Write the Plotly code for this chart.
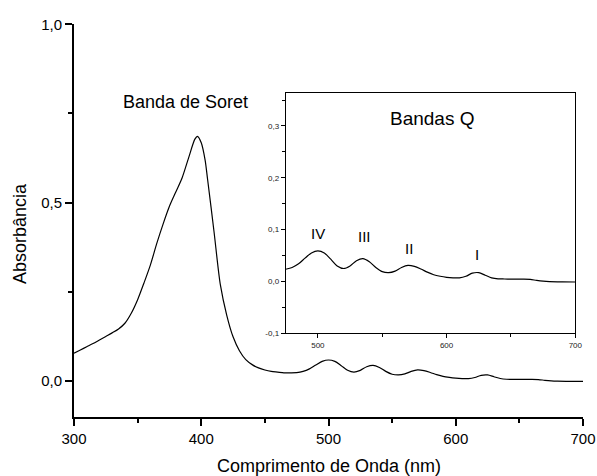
import plotly.graph_objects as go

# Spectrum data
wavelength = [300, 305, 310, 315, 320, 325, 330, 335, 340, 345, 350, 355, 360, 365, 370,
              375, 380, 385, 390, 395, 397, 400, 403, 405, 410, 415, 420, 425, 430, 435,
              440, 445, 450, 455, 460, 465, 470, 475, 480, 485, 490, 495, 500, 505, 510,
              515, 520, 525, 530, 535, 540, 545, 550, 555, 560, 565, 570, 575, 580, 585,
              590, 595, 600, 605, 610, 615, 620, 625, 630, 635, 640, 645, 650, 655, 660,
              665, 670, 675, 680, 690, 700]
absorbance = [0.078, 0.087, 0.096, 0.105, 0.115, 0.125, 0.135, 0.146, 0.162, 0.19, 0.228, 0.275,
              0.325, 0.385, 0.44, 0.49, 0.53, 0.57, 0.625, 0.678, 0.686, 0.668, 0.62, 0.565,
              0.42, 0.27, 0.185, 0.124, 0.085, 0.060, 0.046, 0.037, 0.031, 0.027, 0.025, 0.023,
              0.023, 0.0235, 0.027, 0.034, 0.045, 0.055, 0.059, 0.055, 0.043, 0.030, 0.025,
              0.030, 0.040, 0.044, 0.038, 0.027, 0.019, 0.017, 0.020, 0.027, 0.031, 0.029,
              0.024, 0.018, 0.013, 0.010, 0.008, 0.007, 0.007, 0.010, 0.016, 0.017, 0.012,
              0.007, 0.005, 0.0048, 0.0045, 0.0045, 0.0045, 0.004, 0.002, 0.0005, -0.0003,
              -0.0008, -0.001]

main_xticks = [300, 400, 500, 600, 700]
main_yticks = [0.0, 0.5, 1.0]
main_yticktext = ["0,0", "0,5", "1,0"]
inset_xticks = [500, 600, 700]
inset_yticks = [-0.1, 0.0, 0.1, 0.2, 0.3]
inset_yticktext = ["-0,1", "0,0", "0,1", "0,2", "0,3"]

inset_mask = [w >= 475 for w in wavelength]
inset_x = [w for w, m in zip(wavelength, inset_mask) if m]
inset_y = [a for a, m in zip(absorbance, inset_mask) if m]

band_labels = ["IV", "III", "II", "I"]
band_x = [500, 536.5, 571, 624]
band_y = [0.093, 0.087, 0.064, 0.0515]

FONT = "Liberation Sans"
W, H = 597, 476

fig = go.Figure()
fig.add_trace(go.Scatter(x=wavelength, y=absorbance, mode="lines",
                         line=dict(color="black", width=1.2, shape="spline", smoothing=0.8),
                         xaxis="x", yaxis="y", showlegend=False, hoverinfo="skip"))
fig.add_trace(go.Scatter(x=inset_x, y=inset_y, mode="lines",
                         line=dict(color="black", width=1.2, shape="spline", smoothing=0.8),
                         xaxis="x2", yaxis="y2", showlegend=False, hoverinfo="skip"))

annotations = [
    dict(text="Banda de Soret", x=388, y=0.783, xref="x", yref="y", showarrow=False,
         font=dict(size=18, color="black", family=FONT), xanchor="center", yanchor="middle"),
    dict(text="Bandas Q", x=589, y=0.3147, xref="x2", yref="y2", showarrow=False,
         font=dict(size=19, color="black", family=FONT), xanchor="center", yanchor="middle"),
    dict(text="Comprimento de Onda (nm)", x=328.5 / W, y=1 - 466 / H, xref="paper", yref="paper",
         showarrow=False, font=dict(size=18, color="black", family=FONT),
         xanchor="center", yanchor="middle"),
    dict(text="Absorbância", x=20 / W, y=1 - 234 / H, xref="paper", yref="paper",
         showarrow=False, textangle=-90, font=dict(size=18, color="black", family=FONT),
         xanchor="center", yanchor="middle"),
]
for lab, bx, by in zip(band_labels, band_x, band_y):
    annotations.append(dict(text=lab, x=bx, y=by, xref="x2", yref="y2", showarrow=False,
                            font=dict(size=15, color="black", family=FONT),
                            xanchor="center", yanchor="middle"))

fig.update_layout(
    width=W, height=H,
    margin=dict(l=0, r=0, t=0, b=0, autoexpand=False),
    paper_bgcolor="white", plot_bgcolor="white",
    font=dict(family=FONT, color="black"),
    xaxis=dict(domain=[74 / W, 583 / W], range=[300, 700], anchor="y", automargin=False,
               showline=True, linecolor="black", linewidth=2, showgrid=False, zeroline=False,
               ticks="outside", ticklen=7, tickwidth=1.5, tickcolor="black",
               tickmode="array", tickvals=main_xticks,
               tickfont=dict(size=15, color="black", family=FONT),
               minor=dict(ticks="outside", ticklen=4, tickwidth=1.5, tickcolor="black", dtick=50, tick0=300)),
    yaxis=dict(domain=[1 - 416.7 / H, 1 - 24.3 / H], range=[-0.1, 1.0], anchor="x", automargin=False,
               showline=True, linecolor="black", linewidth=2, showgrid=False, zeroline=False,
               ticks="outside", ticklen=7, tickwidth=1.5, tickcolor="black",
               tickmode="array", tickvals=main_yticks, ticktext=main_yticktext,
               tickfont=dict(size=15, color="black", family=FONT),
               minor=dict(ticks="outside", ticklen=4, tickwidth=1.5, tickcolor="black", dtick=0.25, tick0=0)),
    xaxis2=dict(domain=[285.7 / W, 575.3 / W], range=[475, 700], anchor="y2", automargin=False,
                showline=True, linecolor="black", linewidth=1, mirror=True, showgrid=False, zeroline=False,
                ticks="outside", ticklen=4, tickwidth=1, tickcolor="black",
                tickmode="array", tickvals=inset_xticks,
                tickfont=dict(size=8, color="#222", family=FONT),
                minor=dict(ticks="outside", ticklen=3, tickwidth=1, tickcolor="black", dtick=50, tick0=500)),
    yaxis2=dict(domain=[1 - 333.3 / H, 1 - 93.3 / H], range=[-0.1, 0.363], anchor="x2", automargin=False,
                showline=True, linecolor="black", linewidth=1, mirror=True, showgrid=False, zeroline=False,
                ticks="outside", ticklen=4, tickwidth=1, tickcolor="black",
                tickmode="array", tickvals=inset_yticks, ticktext=inset_yticktext,
                tickfont=dict(size=8, color="#222", family=FONT),
                minor=dict(ticks="outside", ticklen=3, tickwidth=1, tickcolor="black", dtick=0.05, tick0=0)),
    annotations=annotations,
)

fig.write_html("out.html")
